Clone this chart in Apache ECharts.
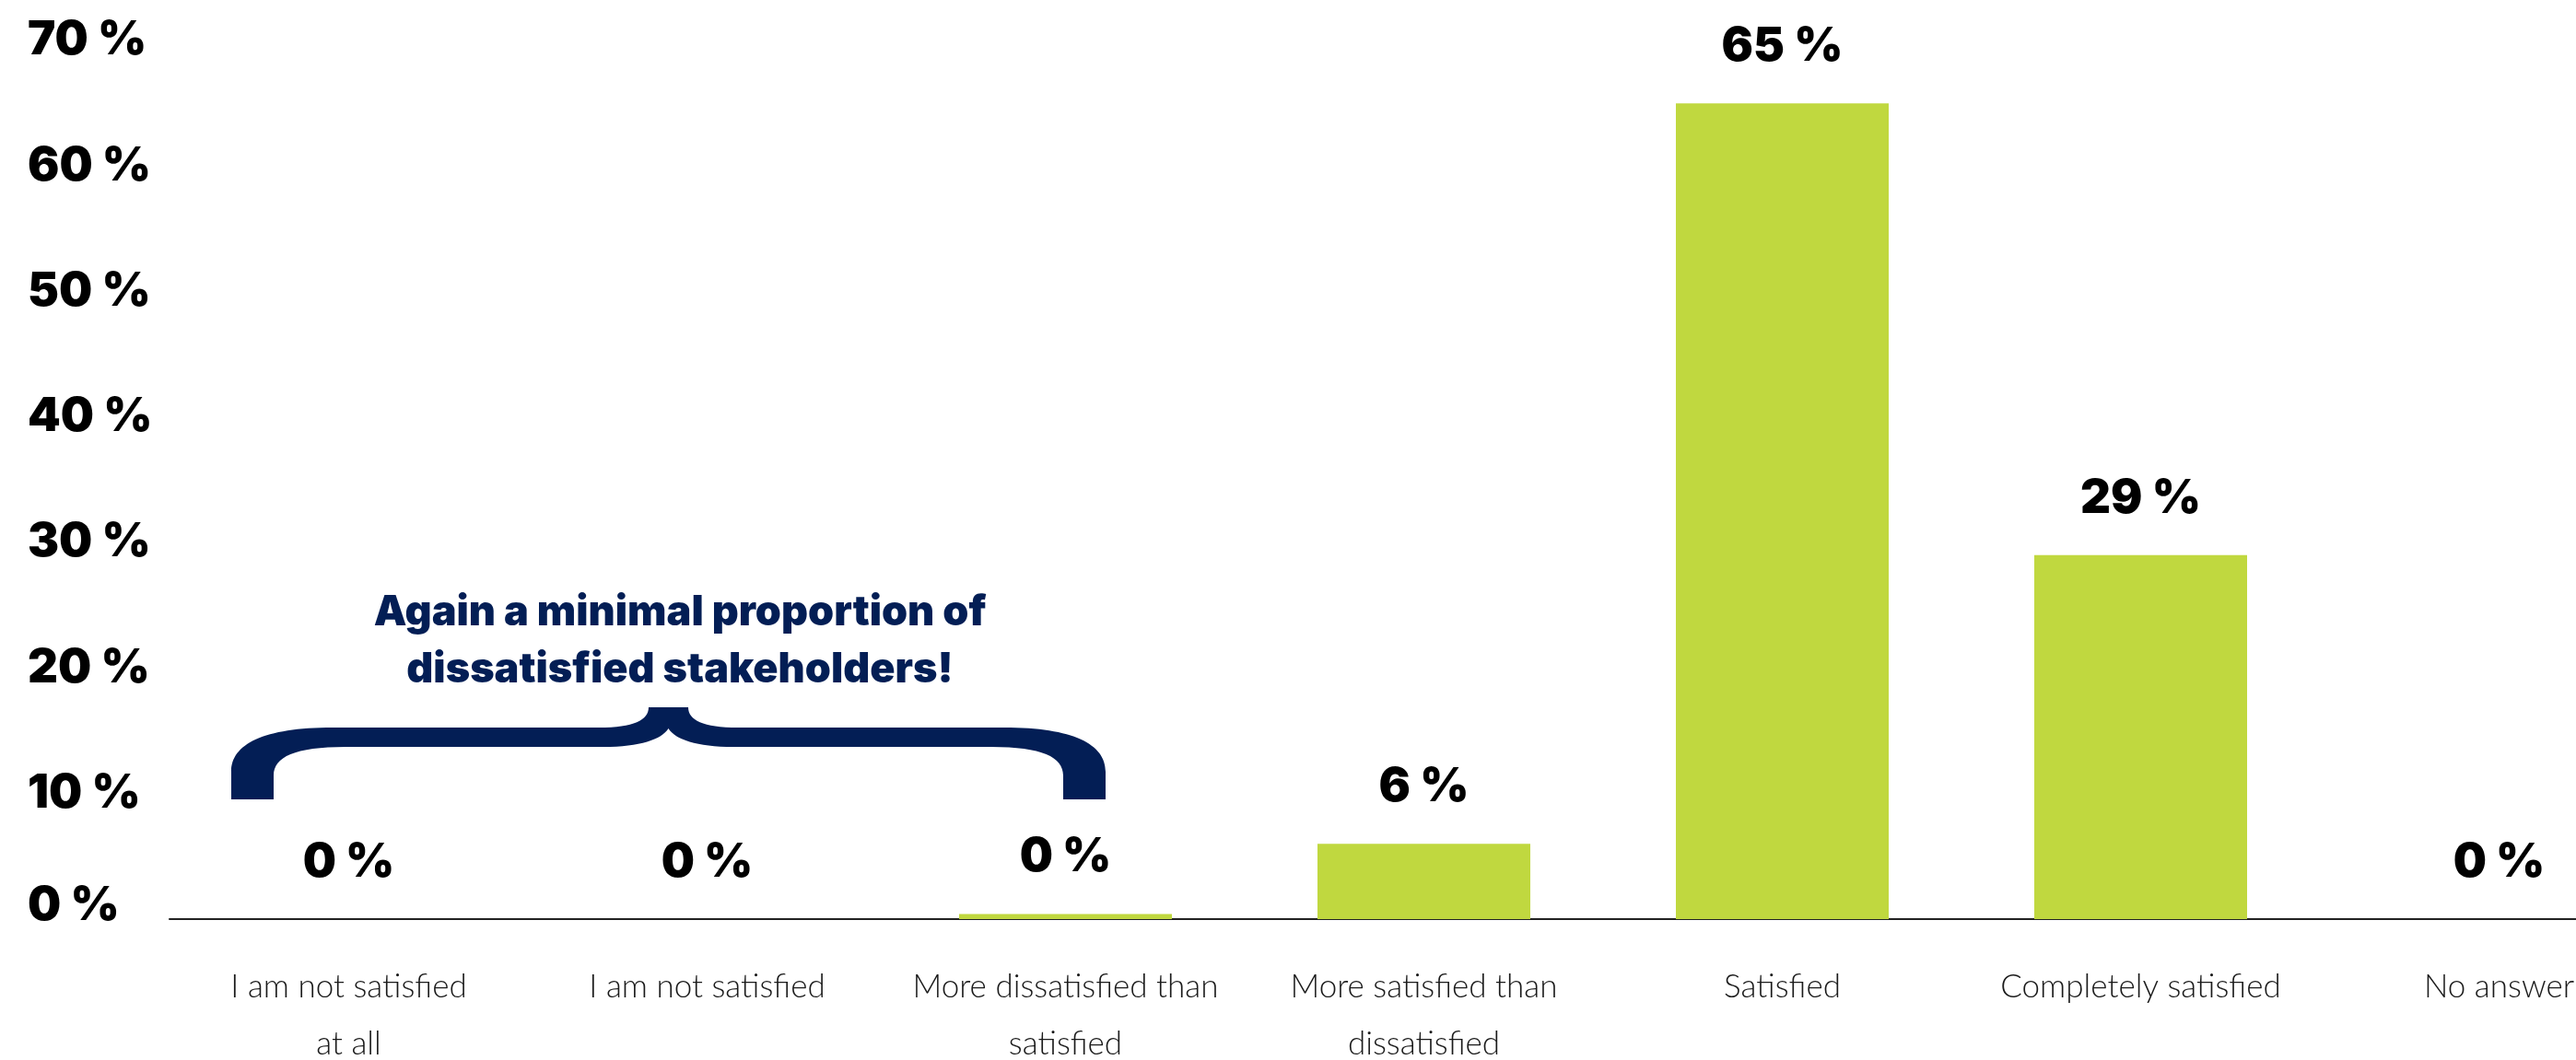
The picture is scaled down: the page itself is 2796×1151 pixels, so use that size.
<!DOCTYPE html>
<html>
<head>
<meta charset="utf-8">
<script src="https://cdn.jsdelivr.net/npm/echarts@6/dist/echarts.min.js"></script>
<style>
  html, body { margin: 0; padding: 0; background: #ffffff; }
  #chart { width: 2796px; height: 1151px; }
</style>
</head>
<body>
<div id="chart"></div>
<script>
// Survey answers: how satisfied stakeholders are
const categories = [
  'I am not satisfied\nat all',
  'I am not satisfied',
  'More dissatisfied than\nsatisfied',
  'More satisfied than\ndissatisfied',
  'Satisfied',
  'Completely satisfied',
  'No answer'
];
// Share of respondents per answer, in percent
const shares = [0, 0, 0.4, 6, 65, 29, 0];
// Value axis range and step
const axisMin = 0;
const axisMax = 70;
const axisStep = 10;
const noteText = ['Again a minimal proportion of', 'dissatisfied stakeholders!'];

const BAR_GREEN = '#c0d83f';
const NAVY = '#031e55';
const HEAVY = 'Inter';

// curly brace grouping the three dissatisfied answers
const BRACE_PATH =
  'M251 868 L251 838 C251 808 286 790 361 790 L650 790 C688 790 704 782 704 768 ' +
  'L747 768 C747 782 763 790 801 790 L1090 790 C1165 790 1200 808 1200 838 ' +
  'L1200 868 L1154 868 L1154 842 C1154 822 1131 811 1076 811 L796 811 ' +
  'C756 811 733 803 725.5 791 C718 803 695 811 655 811 L375 811 ' +
  'C320 811 297 822 297 842 L297 868 Z';

const chart = echarts.init(document.getElementById('chart'));

chart.setOption({
  backgroundColor: '#ffffff',
  animation: false,
  grid: {
    left: 184,
    right: -111,
    top: 44,
    bottom: 153,
    containLabel: false,
    outerBoundsMode: 'none'
  },
  xAxis: {
    type: 'category',
    data: categories,
    boundaryGap: true,
    axisLine: { show: true, lineStyle: { color: '#222222', width: 2 } },
    axisTick: { show: false },
    splitLine: { show: false },
    axisLabel: {
      interval: 0,
      margin: 43,
      color: '#1a1a1a',
      fontFamily: 'Lato',
      fontWeight: 300,
      fontSize: 35,
      lineHeight: 62,
      align: 'center'
    }
  },
  yAxis: {
    type: 'value',
    min: axisMin,
    max: axisMax,
    interval: axisStep,
    axisLine: { show: false },
    axisTick: { show: false },
    splitLine: { show: false },
    axisLabel: {
      align: 'left',
      margin: 154,
      color: '#000000',
      fontFamily: HEAVY,
      fontWeight: 900,
      fontSize: 51,
      formatter: function (v) {
        return v === 0 ? '{lift|0 %}' : v + ' %';
      },
      rich: {
        lift: {
          color: '#000000',
          fontFamily: HEAVY,
          fontWeight: 900,
          fontSize: 51,
          padding: [0, 0, 28, 0]
        }
      }
    }
  },
  series: [
    {
      type: 'bar',
      data: shares,
      barWidth: 231,
      itemStyle: { color: BAR_GREEN },
      label: {
        show: true,
        position: 'top',
        distance: 36,
        color: '#000000',
        fontFamily: HEAVY,
        fontWeight: 900,
        fontSize: 51,
        formatter: function (p) { return Math.round(p.value) + ' %'; }
      }
    },
    {
      type: 'custom',
      silent: true,
      data: [[0, 0]],
      z: 5,
      renderItem: function () {
        return {
          type: 'path',
          shape: { pathData: BRACE_PATH },
          style: { fill: NAVY }
        };
      }
    }
  ],
  graphic: [
    {
      type: 'text',
      x: 738,
      y: 696,
      style: {
        text: noteText.join('\n'),
        fill: NAVY,
        font: '900 45px Inter',
        lineHeight: 62,
        align: 'center',
        verticalAlign: 'middle'
      }
    }
  ]
});
</script>
</body>
</html>
